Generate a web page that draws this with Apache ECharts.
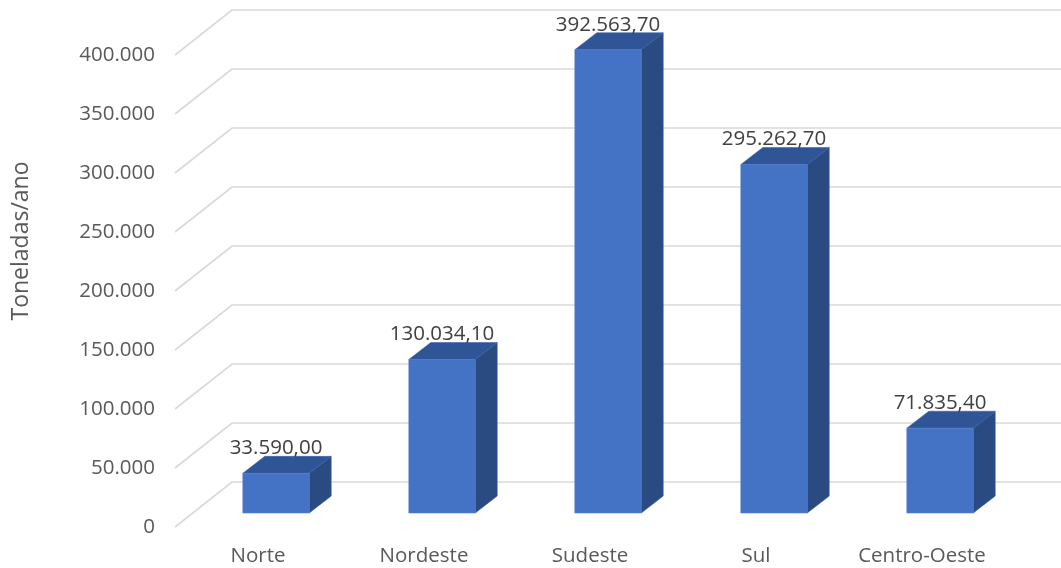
<!DOCTYPE html>
<html>
<head>
<meta charset="utf-8">
<script src="https://cdn.jsdelivr.net/npm/echarts@6/dist/echarts.min.js"></script>
<style>
  html, body { margin: 0; padding: 0; background: #ffffff; }
  #chart { width: 1061px; height: 568px; }
</style>
</head>
<body>
<div id="chart"></div>
<script>
// Geração por região (toneladas/ano)
const regioes = ['Norte', 'Nordeste', 'Sudeste', 'Sul', 'Centro-Oeste'];
const toneladas = [33590.00, 130034.10, 392563.70, 295262.70, 71835.40];
const ticksY = [0, 50000, 100000, 150000, 200000, 250000, 300000, 350000, 400000];
const tituloY = 'Toneladas/ano';

// oblique projection of the 3D floor / columns
const FLOOR_DX = 57, FLOOR_DY = -45;   // full depth of the floor
const BAR_OFF_DX = 18, BAR_OFF_DY = -14; // columns sit in the middle of the depth
const BAR_DX = 22, BAR_DY = -17;       // depth of each column

const FONT = '"Open Sans", "Noto Sans", sans-serif';
const FS = 20.5;

function fmtMilhar(v) {
  return String(Math.round(v)).replace(/\B(?=(\d{3})+(?!\d))/g, '.');
}
function fmtValor(v) {
  const parts = v.toFixed(2).split('.');
  return fmtMilhar(Number(parts[0])) + ',' + parts[1];
}

const chart = echarts.init(document.getElementById('chart'), null, { renderer: 'canvas' });

const option = {
  backgroundColor: '#ffffff',
  animation: false,
  grid: { left: 175, right: 56, top: 55, bottom: 41, containLabel: false },
  xAxis: {
    type: 'category',
    data: regioes,
    axisLine: { show: false },
    axisTick: { show: false },
    axisLabel: { color: '#595959', fontFamily: FONT, fontSize: FS, margin: 19 }
  },
  yAxis: {
    type: 'value',
    min: 0,
    max: 400000,
    interval: 50000,
    axisLine: { show: false },
    axisTick: { show: false },
    splitLine: { show: false },
    axisLabel: {
      color: '#595959', fontFamily: FONT, fontSize: FS, margin: 20,
      formatter: v => fmtMilhar(v)
    }
  },
  graphic: [{
    type: 'text',
    x: 21,
    y: 241,
    rotation: Math.PI / 2,
    style: {
      text: tituloY,
      fill: '#595959',
      font: '23px ' + FONT,
      textAlign: 'center',
      textVerticalAlign: 'middle',
      verticalAlign: 'middle'
    }
  }],
  series: [
    {
      // gridlines: diagonal on the side wall, horizontal on the back wall
      type: 'custom',
      silent: true,
      z: 1,
      data: ticksY.map(t => [0, t]),
      encode: { x: 0, y: 1 },
      renderItem: function (params, api) {
        const p = api.coord([0, api.value(1)]);
        const x0 = params.coordSys.x;
        const y0 = p[1];
        return {
          type: 'polyline',
          shape: {
            points: [[x0, y0], [x0 + FLOOR_DX, y0 + FLOOR_DY], [api.getWidth(), y0 + FLOOR_DY]]
          },
          style: { stroke: '#d9d9d9', lineWidth: 1.6, fill: null }
        };
      }
    },
    {
      // 3D columns
      type: 'custom',
      z: 2,
      data: toneladas.map((v, i) => [i, v]),
      encode: { x: 0, y: 1 },
      renderItem: function (params, api) {
        const i = api.value(0);
        const v = api.value(1);
        const base = api.coord([i, 0]);
        const topP = api.coord([i, v]);
        const w = api.size([1, 0])[0] * 0.4;
        const cx = base[0] + BAR_OFF_DX;
        const x1 = cx - w / 2, x2 = cx + w / 2;
        const yb = base[1] + BAR_OFF_DY;
        const yt = topP[1] + BAR_OFF_DY;
        return {
          type: 'group',
          children: [
            {
              type: 'polygon',
              shape: { points: [[x2, yb], [x2 + BAR_DX, yb + BAR_DY], [x2 + BAR_DX, yt + BAR_DY], [x2, yt]] },
              style: { fill: '#2a4a82', stroke: '#34579a', lineWidth: 0.6 }
            },
            {
              type: 'polygon',
              shape: { points: [[x1, yt], [x2, yt], [x2 + BAR_DX, yt + BAR_DY], [x1 + BAR_DX, yt + BAR_DY]] },
              style: { fill: '#2f5597', stroke: '#3a62a8', lineWidth: 0.6 }
            },
            {
              type: 'rect',
              shape: { x: x1, y: yt, width: w, height: yb - yt },
              style: { fill: '#4472c4', stroke: '#5580cc', lineWidth: 0.6 }
            },
            {
              type: 'text',
              style: {
                text: fmtValor(v),
                x: cx,
                y: yt + BAR_DY - 8,
                textAlign: 'center',
                textVerticalAlign: 'middle',
                verticalAlign: 'middle',
                fill: '#404040',
                font: FS + 'px ' + FONT
              }
            }
          ]
        };
      }
    }
  ]
};

chart.setOption(option);
</script>
</body>
</html>
